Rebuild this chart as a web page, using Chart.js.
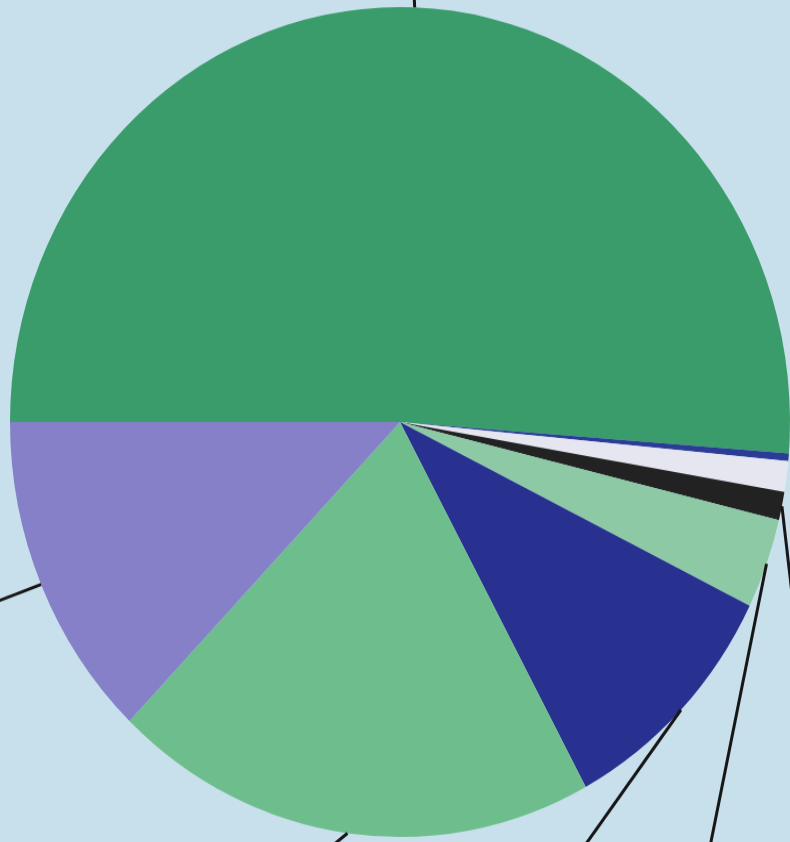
<!DOCTYPE html>
<html>
<head>
<meta charset="utf-8">
<script src="https://cdn.jsdelivr.net/npm/chart.js@4"></script>
<style>
  html, body { margin: 0; padding: 0; width: 790px; height: 842px; overflow: hidden; background: #c8e0ec; }
  #wrap { position: absolute; left: -10px; top: 22px; width: 820px; height: 800px;
          transform-origin: 410px 400px; transform: scaleY(1.064); }
</style>
</head>
<body>
<div id="wrap"><canvas id="myChart" width="820" height="800"></canvas></div>
<script>
// slice order runs clockwise from 9 o'clock
const labels = ['A', 'B', 'C', 'D', 'E', 'F', 'G', 'H'];
const shares = [51.2, 0.3, 1.2, 1.1, 3.5, 9.8, 20.1, 12.8];
const colors = ['#3a9c6a', '#2b3c96', '#e6e6f0', '#222222', '#8cc9a4', '#293190', '#6ebd8d', '#8580c8'];
// leader line direction per slice, degrees clockwise from +x (null = none in view)
const leaderAngles = [-93, null, null, 83, 102, 127, 142, 160];

const leaders = {
    id: 'leaders',
    afterDraw(chart) {
        const ctx = chart.ctx;
        const meta = chart.getDatasetMeta(0);
        ctx.save();
        ctx.strokeStyle = '#161616';
        ctx.lineWidth = 3;
        meta.data.forEach((arc, i) => {
            const dir = leaderAngles[i];
            if (dir === null) return;
            const p = arc.getProps(['x', 'y', 'startAngle', 'endAngle', 'outerRadius'], true);
            const mid = (p.startAngle + p.endAngle) / 2;
            const sx = p.x + Math.cos(mid) * p.outerRadius;
            const sy = p.y + Math.sin(mid) * p.outerRadius;
            const a = dir * Math.PI / 180;
            ctx.beginPath();
            ctx.moveTo(sx, sy);
            ctx.lineTo(sx + Math.cos(a) * 400, sy + Math.sin(a) * 400);
            ctx.stroke();
        });
        ctx.restore();
    }
};

let ctx = document.getElementById('myChart').getContext('2d');
let myChart = new Chart(ctx, {
    type: 'pie',
    data: {
        labels: labels,
        datasets: [{ data: shares, backgroundColor: colors, borderWidth: 0 }]
    },
    options: {
        responsive: false,
        animation: { duration: 0 },
        rotation: 270,
        layout: { padding: { left: 20, right: 20, top: 10, bottom: 10 } },
        plugins: { legend: { display: false }, tooltip: { enabled: false } }
    },
    plugins: [leaders]
});
</script>
</body>
</html>
